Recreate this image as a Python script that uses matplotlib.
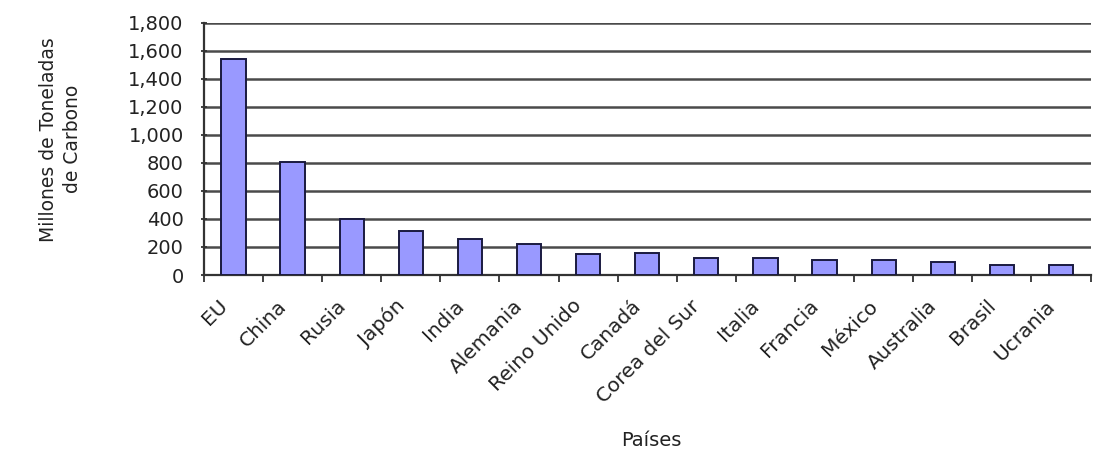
import numpy as np
import matplotlib
matplotlib.use("Agg")
import matplotlib.pyplot as plt
import matplotlib.transforms as mtransforms
from matplotlib.ticker import FuncFormatter, MultipleLocator

plt.rcParams['font.family'] = ['DejaVu Sans']

# emisiones de carbono por pais (millones de toneladas)
paises = ['EU', 'China', 'Rusia', 'Japón', 'India', 'Alemania', 'Reino Unido',
          'Canadá', 'Corea del Sur', 'Italia', 'Francia', 'México', 'Australia',
          'Brasil', 'Ucrania']
emisiones = [1540, 805, 398, 316, 255, 221, 150, 154, 122, 122, 105, 105, 93, 75, 75]

fig = plt.figure(figsize=(10.96, 4.49), dpi=100)
ax = fig.add_axes([0.186, 0.3875, 0.809, 0.5615])

x = np.arange(len(paises))
ax.bar(x, emisiones, width=0.41, color='#9999ff', edgecolor='#1a1a40',
       linewidth=1.4, zorder=3)

ax.set_ylim(0, 1800)
ax.set_xlim(-0.5, len(paises) - 0.5)
ax.yaxis.set_major_locator(MultipleLocator(200))
ax.yaxis.set_major_formatter(FuncFormatter(lambda v, p: '{:,.0f}'.format(v)))
ax.grid(axis='y', color='#4a4a4a', linewidth=1.8, zorder=0)

# marcas entre categorias, nombres de paises girados a 45 grados
ax.set_xticks(np.arange(-0.5, len(paises), 1.0))
ax.tick_params(axis='x', length=5, width=1.3, direction='out',
               color='#333333', labelbottom=False)
desplaza = mtransforms.ScaledTranslation(-9 / 100, -28 / 100, fig.dpi_scale_trans)
trans = ax.get_xaxis_transform() + desplaza
for i, nombre in enumerate(paises):
    ax.text(x[i], 0, nombre, transform=trans, rotation=45, ha='right',
            va='center', rotation_mode='anchor', fontsize=14.5,
            color='#222222')

ax.tick_params(axis='y', length=5, width=1.3, direction='inout', labelsize=14,
               labelcolor='#222222', color='#333333', pad=12)

for s in ['top', 'right']:
    ax.spines[s].set_visible(False)
ax.spines['left'].set_color('#333333')
ax.spines['left'].set_linewidth(1.6)
ax.spines['bottom'].set_color('#333333')
ax.spines['bottom'].set_linewidth(1.6)

fig.text(0.055, 0.69, 'Millones de Toneladas\nde Carbono', rotation=90,
         ha='center', va='center', fontsize=13.5, color='#222222',
         multialignment='center', linespacing=1.3)
fig.text(0.594, 0.018, 'Países', ha='center', va='center', fontsize=14,
         color='#222222')

fig.savefig('out.png', dpi=100, facecolor='white')
